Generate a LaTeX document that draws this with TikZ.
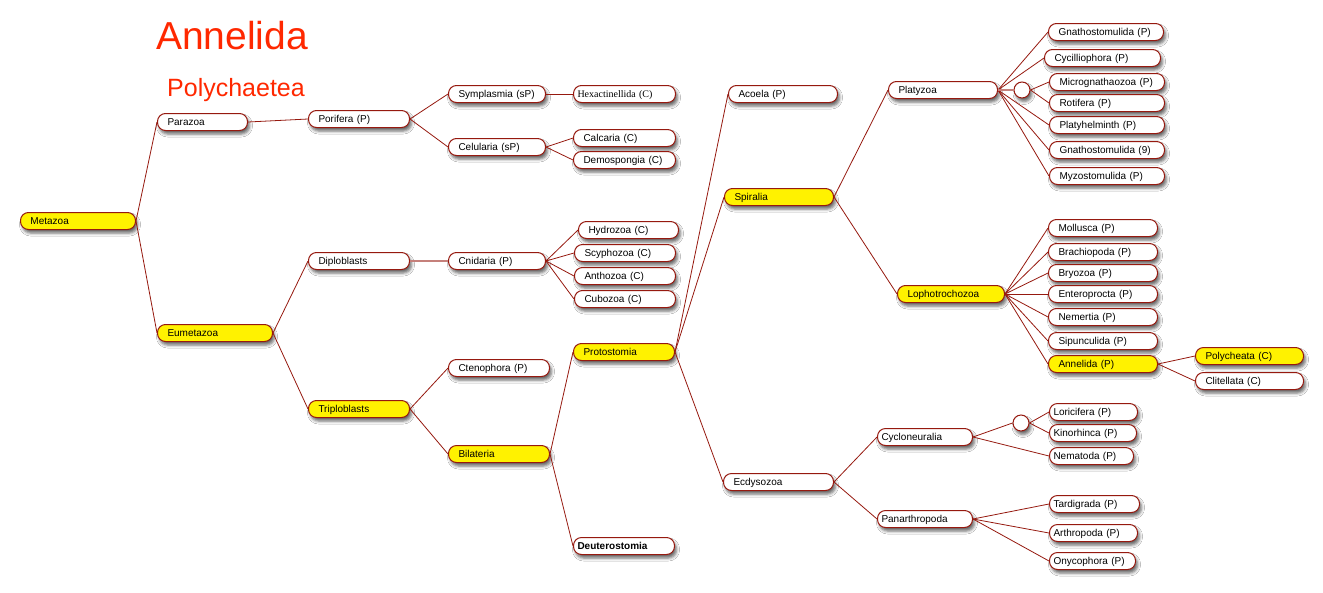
\documentclass[tikz,border=0pt]{standalone}
\usepackage{fontspec}
\setmainfont{Liberation Sans}
\newfontfamily\timesfont{Liberation Serif}
\usetikzlibrary{shadows.blur}

\definecolor{treered}{RGB}{150,25,15}
\definecolor{titlered}{RGB}{255,40,0}

\tikzset{
  taxon/.style={draw=treered, line width=1pt, rounded corners=8pt, fill=white,
    minimum height=17pt, inner xsep=10pt, inner ysep=0pt, text width=#1, align=left,
    text height=7pt, text depth=0.5pt,
    anchor=west, font=\fontsize{10}{12}\selectfont,
    blur shadow={shadow xshift=2pt, shadow yshift=-3.5pt, shadow blur radius=3pt, shadow opacity=60}},
  taxon/.default=80pt,
  hl/.style={fill=yellow},
  tight/.style={inner xsep=4pt},
  hub/.style={circle, draw=treered, line width=1pt, fill=white, minimum size=16pt,
    inner sep=0pt, blur shadow={shadow xshift=2pt, shadow yshift=-3.5pt, shadow blur radius=3pt, shadow opacity=60}},
  link/.style={draw=treered, line width=0.8pt},
  biglink/.style={draw=treered!55, line width=2pt}
}

\begin{document}
\begin{tikzpicture}[x=1pt,y=-1pt]

\useasboundingbox (0,0) rectangle (1323,592);
\fill[white] (0,0) rectangle (1323,592);

\node[anchor=base west, text=titlered, inner sep=0pt, font=\fontsize{39}{44}\selectfont] (title) at (156,49) {Annelida};
\node[anchor=base west, text=titlered, inner sep=0pt, font=\fontsize{25}{30}\selectfont] (subtitle) at (167,96) {Polychaetea};

% first levels
\node[taxon=95pt, hl] (meta) at (20,221) {Metazoa};
\node[taxon=70pt] (para) at (157,122) {Parazoa};
\node[taxon=95pt, hl] (eume) at (157,333) {Eumetazoa};
\node[taxon=81pt] (pori) at (308,119) {Porifera (P)};
\node[taxon=81pt] (dipl) at (308,261) {Diploblasts};
\node[taxon=81pt, hl] (trip) at (308,409) {Triploblasts};

% sponges and cnidarians
\node[taxon=77pt] (symp) at (448,94) {Symplasmia (sP)};
\node[taxon=77pt] (celu) at (448,147) {Celularia (sP)};
\node[taxon=94pt, tight, font=\fontsize{10}{12}\timesfont] (hexa) at (573,94) {Hexactinellida (C)};
\node[taxon=82pt] (calc) at (573,138) {Calcaria (C)};
\node[taxon=82pt] (demo) at (573,160) {Demospongia (C)};
\node[taxon=77pt] (cnid) at (448,261) {Cnidaria (P)};
\node[taxon=80pt] (hydr) at (578,230) {Hydrozoa (C)};
\foreach \n/\lbl/\y in {scyp/Scyphozoa (C)/253, anth/Anthozoa (C)/276, cubo/Cubozoa (C)/299}
  \node[taxon=81pt] (\n) at (574,\y) {\lbl};

\node[taxon=81pt] (cten) at (448,368) {Ctenophora (P)};
\node[taxon=81pt, hl] (bila) at (448,454) {Bilateria};
\node[taxon=81pt, hl] (prot) at (573,352) {Protostomia};
\node[taxon=93pt, tight, font=\fontsize{10}{12}\selectfont\bfseries] (deut) at (573,546) {Deuterostomia};

% protostomes
\node[taxon=89pt] (acoe) at (728,94) {Acoela (P)};
\node[taxon=89pt, hl] (spir) at (724,197) {Spiralia};
\node[taxon=90pt] (ecdy) at (723,482) {Ecdysozoa};
\node[taxon=89pt] (plat) at (888,90) {Platyzoa};
\node[taxon=87pt, hl] (loph) at (897,294) {Lophotrochozoa};
\node[taxon=87pt, tight] (cycl) at (877,437) {Cycloneuralia};
\node[taxon=87pt, tight] (pana) at (877,519) {Panarthropoda};
\node[hub] (hub1) at (1022,90) {};
\node[hub] (hub2) at (1021,423) {};

% phyla
\node[taxon=95pt] (gna1) at (1048,32) {Gnathostomulida (P)};
\node[taxon=96pt] (cyci) at (1044,58) {Cycilliophora (P)};
\foreach \n/\lbl/\y in {micr/Micrognathaozoa (P)/82, roti/Rotifera (P)/103, plhe/Platyhelminth (P)/125,
  gna2/Gnathostomulida (9)/150, myzo/Myzostomulida (P)/176}
  \node[taxon=95pt] (\n) at (1049,\y) {\lbl};
\foreach \n/\lbl/\y in {moll/Mollusca (P)/228, brac/Brachiopoda (P)/252, bryo/Bryozoa (P)/273,
  ente/Enteroprocta (P)/294, neme/Nemertia (P)/317, sipu/Sipunculida (P)/341}
  \node[taxon=89pt] (\n) at (1048,\y) {\lbl};
\node[taxon=89pt, hl] (anne) at (1048,364) {Annelida (P)};
\node[taxon=88pt, hl] (polc) at (1195,356) {Polycheata (C)};
\node[taxon=88pt] (clit) at (1195,381) {Clitellata (C)};
\node[taxon=80pt, tight] (lori) at (1049,412) {Loricifera (P)};
\node[taxon=79pt, tight] (kino) at (1049,433) {Kinorhinca (P)};
\node[taxon=76pt, tight] (nema) at (1049,456) {Nematoda (P)};
\node[taxon=82pt, tight] (tard) at (1049,504) {Tardigrada (P)};
\node[taxon=80pt, tight] (arth) at (1049,533) {Arthropoda (P)};
\node[taxon=78pt, tight] (onyc) at (1049,561) {Onycophora (P)};

% branches
\foreach \a/\b in {meta/para, meta/eume, para/pori, eume/dipl, eume/trip, pori/symp, pori/celu,
  symp/hexa, celu/calc, celu/demo, trip/cten, trip/bila, bila/prot, bila/deut,
  prot/acoe, prot/spir, prot/ecdy, spir/plat, spir/loph, anne/polc, anne/clit,
  ecdy/cycl, ecdy/pana, cycl/nema, pana/tard, pana/arth, pana/onyc}
  \draw[link] (\a.east) -- (\b.west);
\foreach \b in {hydr,scyp,anth,cubo} \draw[link] (cnid.east) -- (\b.west);
\foreach \b in {gna1,cyci,plhe,gna2,myzo} \draw[link] (plat.east) -- (\b.west);
\foreach \b in {micr,roti} \draw[link] (hub1.east) -- (\b.west);
\foreach \b in {moll,brac,bryo,ente,neme,sipu,anne} \draw[link] (loph.east) -- (\b.west);
\foreach \b in {lori,kino} \draw[link] (hub2.east) -- (\b.west);
\draw[link] (cycl.east) -- (hub2.west);
\draw[biglink] (dipl.east) -- (cnid.west);
\draw[biglink] (plat.east) -- (hub1.west);

\end{tikzpicture}
\end{document}
